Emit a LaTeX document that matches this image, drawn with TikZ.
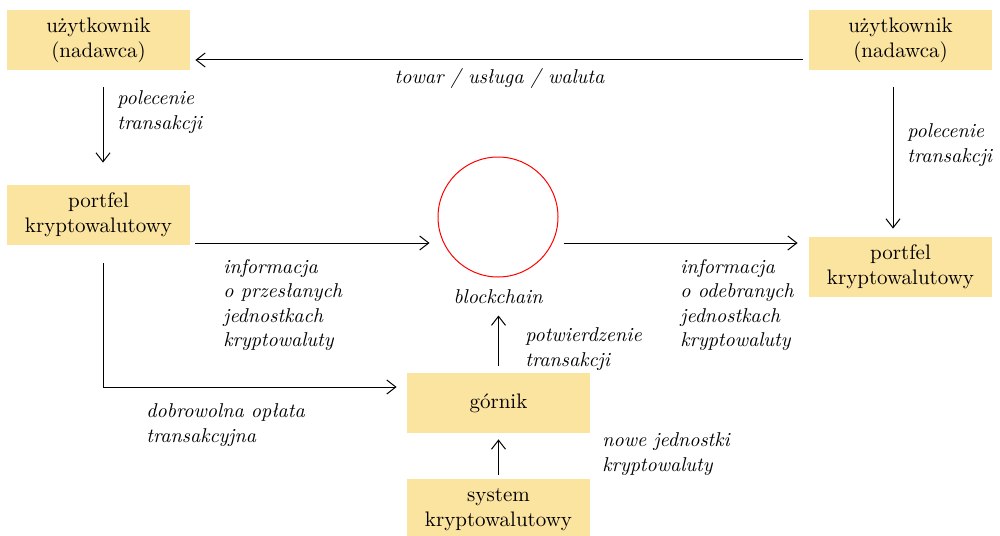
\documentclass[tikz,border=0pt]{standalone}
\usepackage{tikz}
\usetikzlibrary{arrows.meta,calc}
\definecolor{boxfill}{RGB}{251,227,160}

\begin{document}
\begin{tikzpicture}[x=0.5pt,y=-0.5pt,
    font=\fontsize{10.5}{12.5}\selectfont,
    actor/.style={fill=boxfill, inner sep=0pt, minimum width=91.5pt,
      minimum height=30pt, align=center},
    note/.style={font=\fontsize{10}{12.2}\selectfont\itshape, inner sep=0pt, align=left},
    flow/.style={line width=0.5pt, -{Straight Barb[length=4.5pt,width=7pt]}}]
    \useasboundingbox (0,0) rectangle (1000,535);
    \node[actor] (U1) at (98.5,40) {użytkownik\\(nadawca)};
    \node[actor] (U2) at (900.5,40) {użytkownik\\(nadawca)};
    \node[actor] (P1) at (98.5,215) {portfel\\kryptowalutowy};
    \node[actor] (P2) at (900.5,267) {portfel\\kryptowalutowy};
    \node[actor] (G) at (498.5,403) {górnik};
    \node[actor, minimum height=31pt] (S) at (498.5,510) {system\\kryptowalutowy};
    \node[draw=red, line width=0.5pt, circle, minimum size=60pt, inner sep=0pt]
      (B) at (498,217) {};
    \node[note, anchor=center] (Bl) at (498,297) {blockchain};
    \draw[flow, shorten <=3pt, shorten >=2.5pt]
      ([yshift=-10pt]U2.west) -- ([yshift=-10pt]U2.west -| U1.east)
      node[note, midway, below=4pt] (t1) {towar / usługa / waluta};
    \draw[flow, shorten <=8.5pt, shorten >=11pt]
      ([xshift=2.25pt]U1.south) -- ([xshift=2.25pt]P1.north);
    \node[note, anchor=west] (t2) at (117,112) {polecenie\\transakcji};
    \draw[flow, shorten <=8.5pt, shorten >=4pt]
      ([xshift=-3.75pt]U2.south) -- ([xshift=-3.75pt]P2.north);
    \node[note, anchor=west] (t3) at (907,145) {polecenie\\transakcji};
    \draw[flow, shorten <=2.5pt, shorten >=4pt]
      ([yshift=-14pt]P1.east) -- ([yshift=-14pt]P1.east -| B.west);
    \node[note, anchor=west] (t4) at (223,305)
      {informacja\\o przesłanych\\jednostkach\\kryptowaluty};
    \draw[flow, shorten <=2.5pt, shorten >=5.5pt]
      ([yshift=12pt]P2.west -| B.east) -- ([yshift=12pt]P2.west);
    \node[note, anchor=west] (t5) at (680,305)
      {informacja\\o odebranych\\jednostkach\\kryptowaluty};
    \draw[flow, shorten <=9pt, shorten >=5pt]
      ([xshift=2.25pt]P1.south) |- ([yshift=8pt]G.west);
    \node[note, anchor=west] (t6) at (146,425) {dobrowolna opłata\\transakcyjna};
    \draw[flow, shorten <=3.5pt, shorten >=19pt] (G.north) -- (G.north |- B.south);
    \node[note, anchor=west] (t7) at (525,349) {potwierdzenie\\transakcji};
    \draw[flow, shorten <=2pt, shorten >=3pt] (S.north) -- (G.south);
    \node[note, anchor=west] (t8) at (602,454) {nowe jednostki\\kryptowaluty};
\end{tikzpicture}
\end{document}
